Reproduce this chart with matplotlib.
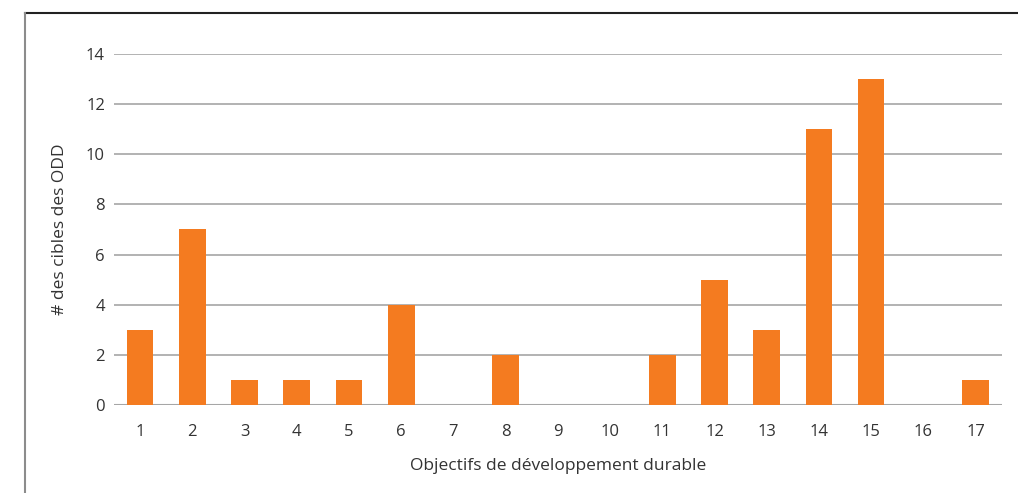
import numpy as np
import matplotlib.pyplot as plt
from matplotlib.lines import Line2D

plt.rcParams.update({
    "font.family": ["Open Sans", "DejaVu Sans"],
})

goals = [str(i) for i in range(1, 18)]
targets = [3, 7, 1, 1, 1, 4, 0, 2, 0, 0, 2, 5, 3, 11, 13, 0, 1]
y_ticks = [0, 2, 4, 6, 8, 10, 12, 14]

bar_color = "#F47B20"
grid_color = "#A6A6A6"
text_color = "#333333"

fig = plt.figure(figsize=(10.18, 4.93), dpi=100)
ax = fig.add_axes([0.112, 0.1785, 0.872, 0.712])

x = np.arange(len(goals))
ax.bar(x, targets, width=0.51, color=bar_color, zorder=3)

ax.set_xlim(-0.5, len(goals) - 0.5)
ax.set_ylim(0, 14)
ax.set_yticks(y_ticks)
ax.set_xticks(x)
ax.set_xticklabels(goals)
ax.yaxis.grid(True, color=grid_color, linewidth=1.2, zorder=0)
ax.axhline(0, color=grid_color, linewidth=1.5, zorder=2)

for spine in ax.spines.values():
    spine.set_visible(False)
ax.tick_params(length=0, labelsize=12, colors=text_color)
ax.tick_params(axis="x", pad=14)
ax.tick_params(axis="y", pad=6.5)

ax.set_xlabel("Objectifs de développement durable", fontsize=12.5,
              color=text_color, labelpad=13)
ax.set_ylabel("# des cibles des ODD", fontsize=12.5, color=text_color,
              labelpad=13)

# outer frame: dark rule on top, grey rule down the left side
fig.add_artist(Line2D([25 / 1018, 1], [1 - 13 / 493, 1 - 13 / 493],
                      transform=fig.transFigure, color="#222222", linewidth=1.5))
fig.add_artist(Line2D([25 / 1018, 25 / 1018], [0, 1 - 13 / 493],
                      transform=fig.transFigure, color="#8C8C8C", linewidth=1.5))

fig.savefig("out.png", dpi=100, facecolor="white")
